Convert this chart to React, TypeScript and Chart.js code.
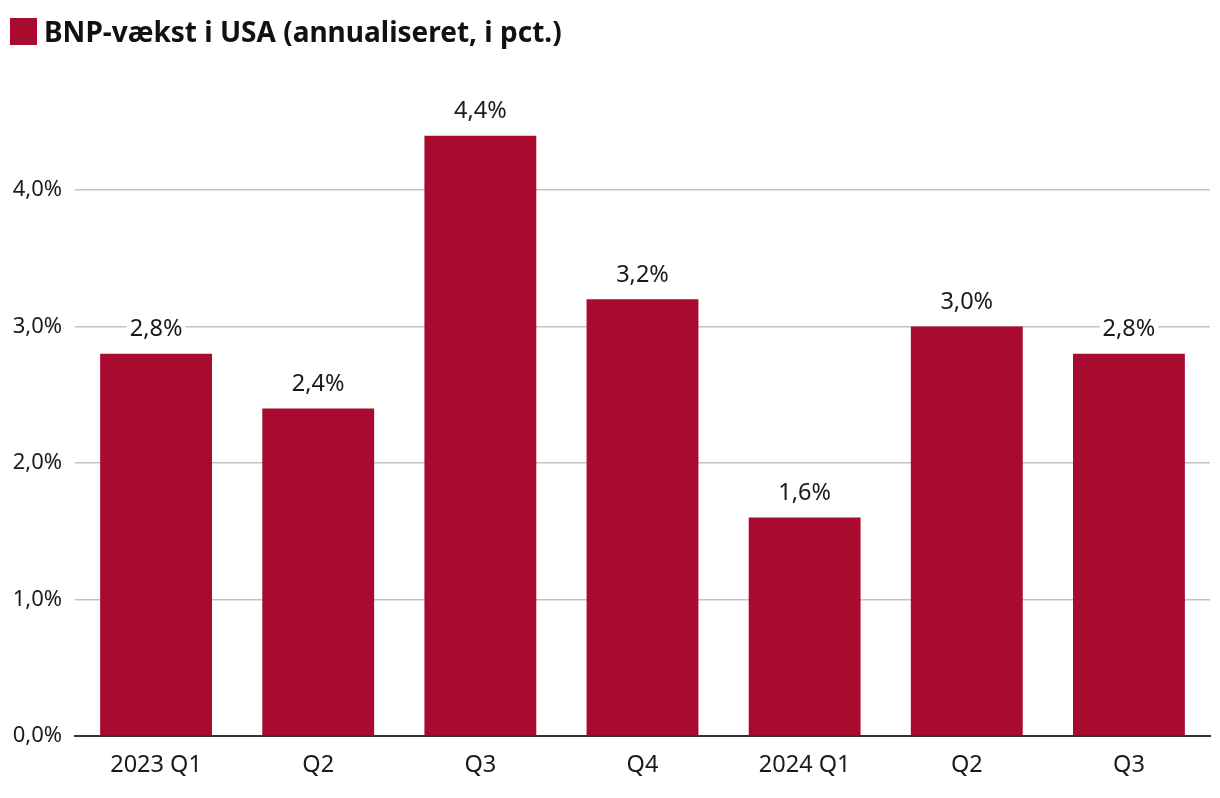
import React, { useEffect, useRef } from 'react';
import { Chart, registerables } from 'chart.js';

Chart.register(...registerables);

const categories = ['2023 Q1', 'Q2', 'Q3', 'Q4', '2024 Q1', 'Q2', 'Q3'];
const growth = [2.8, 2.4, 4.4, 3.2, 1.6, 3.0, 2.8];
const yTickValues = [0, 1, 2, 3, 4];
const seriesLabel = 'BNP-vækst i USA (annualiseret, i pct.)';

const BAR_COLOR = '#a80b2f';
const TEXT_COLOR = '#1a1a1a';
const FONT = '"Noto Sans", "Open Sans", sans-serif';

const fmt = (v: number) => v.toFixed(1).replace('.', ',') + '%';

const legendPlugin = {
  id: 'customLegend',
  afterDraw(chart: any) {
    const ctx = chart.ctx;
    const ds = chart.data.datasets[0];
    ctx.save();
    ctx.fillStyle = ds.backgroundColor;
    ctx.fillRect(2, 10, 27, 27);
    ctx.font = `bold 28px ${FONT}`;
    ctx.fillStyle = '#111';
    ctx.textAlign = 'left';
    ctx.textBaseline = 'alphabetic';
    ctx.fillText(ds.label, 36, 33.5);
    ctx.restore();
  },
};

const valueLabelPlugin = {
  id: 'valueLabels',
  afterDatasetsDraw(chart: any) {
    const ctx = chart.ctx;
    const meta = chart.getDatasetMeta(0);
    const data = chart.data.datasets[0].data as number[];
    ctx.save();
    ctx.font = `23.5px ${FONT}`;
    ctx.textAlign = 'center';
    ctx.textBaseline = 'alphabetic';
    meta.data.forEach((bar: any, i: number) => {
      const text = fmt(data[i]);
      const w = ctx.measureText(text).width;
      const baseline = bar.y - 17.5;
      ctx.fillStyle = '#ffffff';
      ctx.fillRect(bar.x - w / 2 - 3, baseline - 19, w + 6, 24);
      ctx.fillStyle = TEXT_COLOR;
      ctx.fillText(text, bar.x, baseline);
    });
    ctx.restore();
  },
};

export default function App() {
  const canvasRef = useRef<HTMLCanvasElement | null>(null);

  useEffect(() => {
    if (!canvasRef.current) return;
    const chart = new Chart(canvasRef.current, {
      type: 'bar',
      data: {
        labels: categories,
        datasets: [
          {
            label: seriesLabel,
            data: growth,
            backgroundColor: BAR_COLOR,
            borderWidth: 0,
            categoryPercentage: 1,
            barPercentage: 0.69,
          },
        ],
      },
      options: {
        animation: false,
        responsive: true,
        maintainAspectRatio: false,
        layout: { padding: { top: 127.4, right: 2, bottom: 21, left: 0 } },
        plugins: {
          legend: { display: false },
          tooltip: { enabled: false },
        },
        scales: {
          x: {
            grid: { display: false, drawTicks: false },
            border: { display: true, color: '#333333', width: 2 },
            ticks: {
              color: TEXT_COLOR,
              font: { family: FONT, size: 23.5 },
              padding: 15,
              maxRotation: 0,
              autoSkip: false,
            },
            afterFit: (scale: any) => {
              scale.height = 41;
            },
          },
          y: {
            min: 0,
            max: 4.4,
            afterBuildTicks: (scale: any) => {
              scale.ticks = yTickValues.map((v) => ({ value: v }));
            },
            grid: {
              drawTicks: false,
              color: (ctx: any) => (ctx.tick && ctx.tick.value === 0 ? 'rgba(0,0,0,0)' : '#c2c2c2'),
              lineWidth: 1.5,
            },
            border: { display: false },
            ticks: {
              color: TEXT_COLOR,
              font: { family: FONT, size: 22 },
              padding: 13,
              callback: (v: any) => fmt(Number(v)),
            },
            afterFit: (scale: any) => {
              scale.width = 67;
            },
          },
        },
      },
      plugins: [valueLabelPlugin, legendPlugin],
    });
    return () => chart.destroy();
  }, []);

  return (
    <div style={{ position: 'relative', width: 1204, height: 790 }}>
      <canvas ref={canvasRef} />
    </div>
  );
}
